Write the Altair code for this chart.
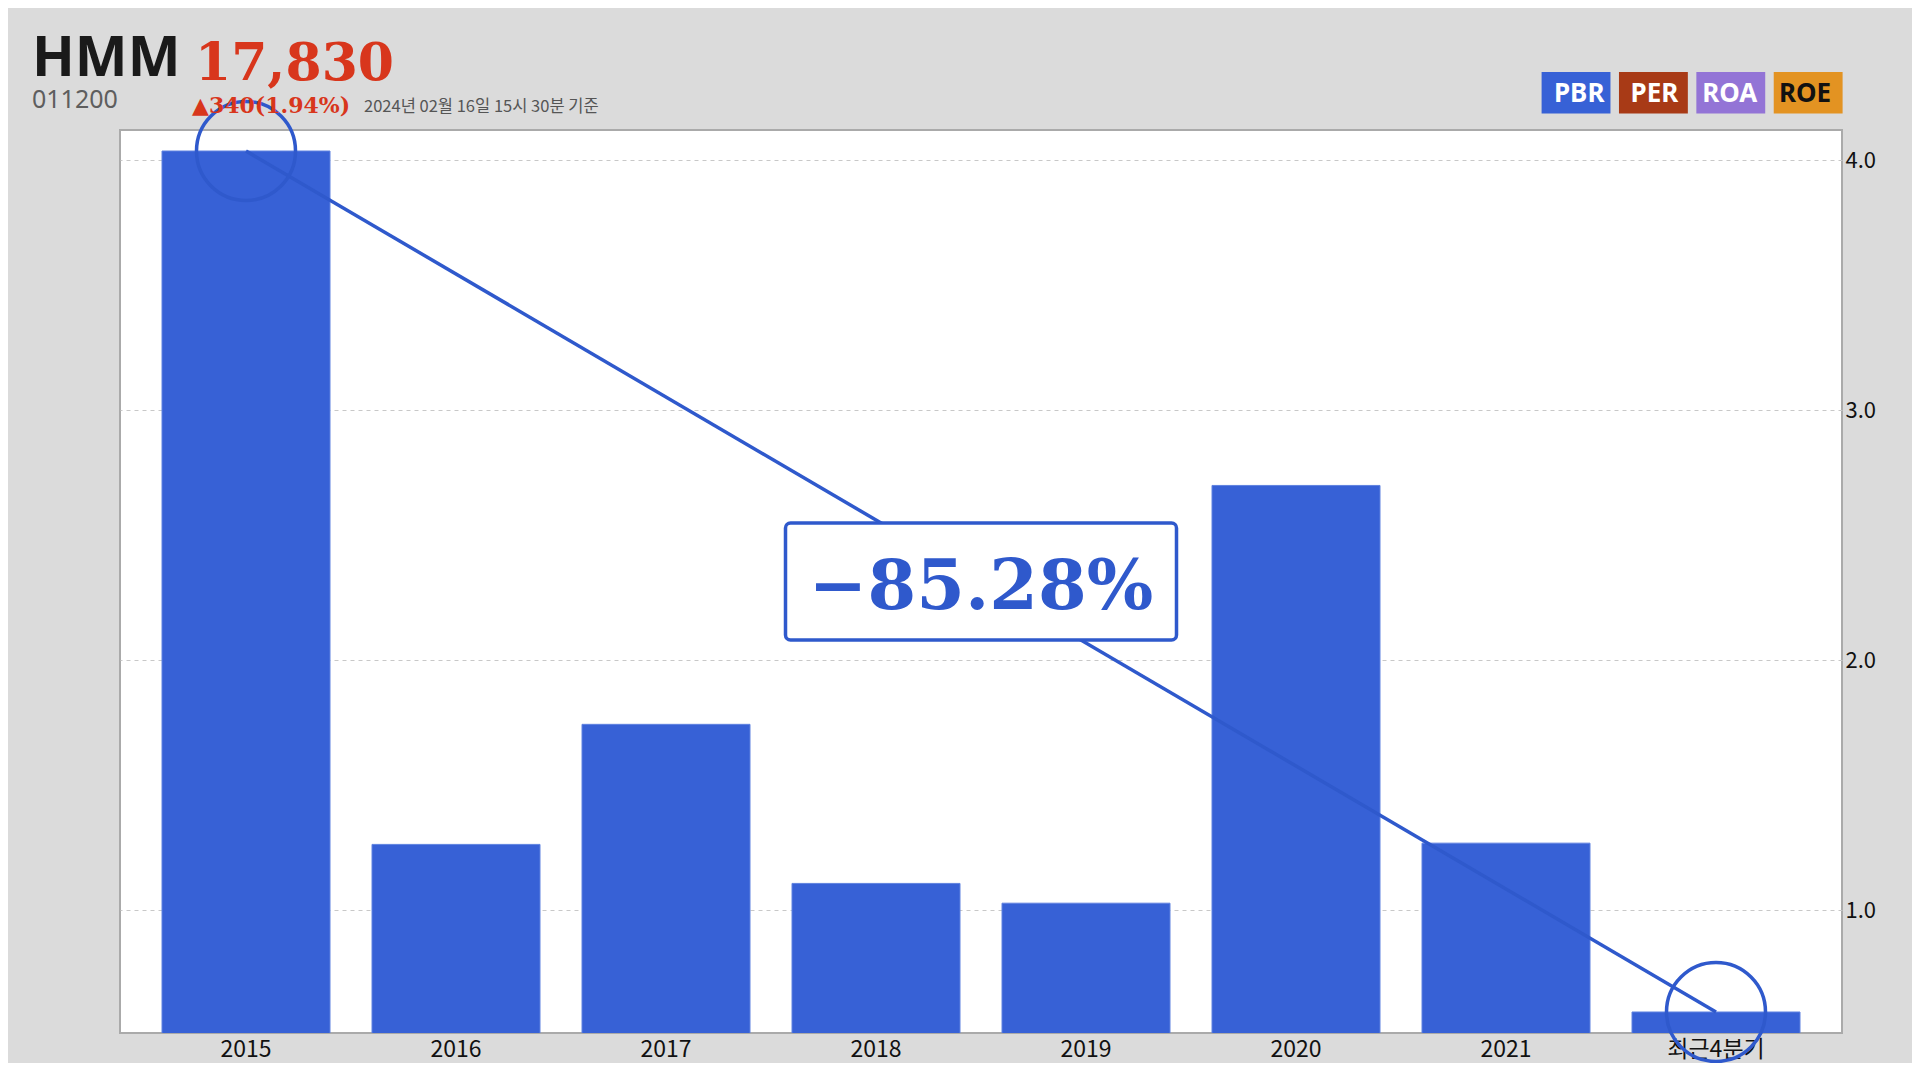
import altair as alt
import pandas as pd

# ---- data ----
years = ["2015", "2016", "2017", "2018", "2019", "2020", "2021", "최근4분기"]
pbr = [4.036, 1.264, 1.744, 1.108, 1.029, 2.699, 1.269, 0.594]
y_ticks = [1.0, 2.0, 3.0, 4.0]
legend_labels = ["PBR", "PER", "ROA", "ROE"]
legend_colors = ["#3761d6", "#a83a16", "#9374d6", "#e39322"]
legend_text_colors = ["#ffffff", "#ffffff", "#ffffff", "#111111"]
change_text = "−85.28%"
name_text = "HMM"
code_text = "011200"
price_text = "17,830"
delta_text = "▲340(1.94%)"
date_text = "2024년 02월 16일 15시 30분 기준"

# ---- layout ----
W, H = 1722, 903
DMIN, DMAX = 0.51, 4.12
BLUE = "#3761d6"
LINE_BLUE = "#2f59cc"
RED = "#d8361c"
FONT = "Noto Sans CJK KR"
SERIF = "DejaVu Serif"

df = pd.DataFrame({"year": years, "value": pbr})
ends = df.iloc[[0, len(df) - 1]].reset_index(drop=True)
leg = pd.DataFrame({"label": legend_labels, "color": legend_colors, "tcolor": legend_text_colors})

def xsc():
    return alt.Scale(type="band", domain=years, paddingInner=0.2, paddingOuter=0.2)

yscale = alt.Scale(domain=[DMIN, DMAX], nice=False, zero=False)
yaxis = alt.Axis(orient="right", values=y_ticks, format=".1f", ticks=False, domain=False,
                 grid=True, gridDash=[4, 4], gridColor="#c8c8c8", gridWidth=1,
                 labelFont=FONT, labelFontSize=22, labelColor="#111111", labelPadding=3)

bars = alt.Chart(df).mark_bar(color=BLUE, clip=True, stroke="#5f82e0", strokeWidth=1).encode(
    x=alt.X("year:N", sort=years, scale=xsc(), title=None,
            axis=alt.Axis(labelAngle=0, ticks=False, domain=False, labelFont=FONT,
                          labelFontSize=23, labelColor="#111111", labelPadding=5)),
    y=alt.Y("value:Q", scale=yscale, title=None, axis=yaxis),
)

line = alt.Chart(ends).mark_line(color=LINE_BLUE, strokeWidth=3.5).encode(
    x=alt.X("year:N", sort=years, scale=xsc(), axis=None),
    y=alt.Y("value:Q", scale=yscale, title=None, axis=yaxis),
)

circles = alt.Chart(ends).mark_point(shape="circle", size=9800, filled=False, strokeWidth=3.5,
                                     color=LINE_BLUE, opacity=1).encode(
    x=alt.X("year:N", sort=years, scale=xsc(), axis=None),
    y=alt.Y("value:Q", scale=yscale, title=None, axis=yaxis),
)

mid_val = (pbr[0] + pbr[-1]) / 2
cy = H * (DMAX - mid_val) / (DMAX - DMIN)
cx = W / 2
bw, bh = 391, 117

box = alt.Chart(pd.DataFrame({"t": [change_text]})).mark_rect(
    fill="white", stroke=LINE_BLUE, strokeWidth=3.5, cornerRadius=5).encode(
    x=alt.value(cx - bw / 2), x2=alt.value(cx + bw / 2),
    y=alt.value(cy - bh / 2), y2=alt.value(cy + bh / 2),
)
box_text = alt.Chart(pd.DataFrame({"t": [change_text]})).mark_text(
    font=SERIF, fontSize=70, fontWeight="bold", color=LINE_BLUE, align="center", baseline="alphabetic").encode(
    x=alt.value(cx), y=alt.value(cy + 27), text="t:N",
)

def label(txt, x, y, size, color, font, weight="normal"):
    return alt.Chart(pd.DataFrame({"t": [txt]})).mark_text(
        font=font, fontSize=size, fontWeight=weight, color=color, align="left",
        baseline="alphabetic").encode(x=alt.value(x), y=alt.value(y), text="t:N")

titles = [
    label(name_text, -88, -54, 56, "#1a1a1a", "Noto Sans", "bold"),
    label(price_text, 75, -50, 52, RED, SERIF, "bold"),
    label(code_text, -88, -22, 25, "#5e5e5e", "Noto Sans"),
    label(delta_text, 72, -17, 22, RED, SERIF, "bold"),
    label(date_text, 244, -18, 16.5, "#555555", FONT),
]

legx = alt.Scale(domain=legend_labels, range=[1421.6, 1722.6], paddingInner=0.11, paddingOuter=0)
leg_boxes = alt.Chart(leg).mark_bar().encode(
    x=alt.X("label:N", sort=legend_labels, scale=legx, axis=None),
    y=alt.value(-58), y2=alt.value(-16.5),
    color=alt.Color("color:N", scale=None, legend=None),
)
leg_text = alt.Chart(leg).mark_text(font="Noto Sans", fontSize=26, fontWeight="bold",
                                    baseline="middle", dy=1).encode(
    x=alt.X("label:N", sort=legend_labels, scale=legx, axis=None),
    y=alt.value(-37),
    text="label:N",
    color=alt.Color("tcolor:N", scale=None, legend=None),
)

chart = alt.layer(bars, line, circles, box, box_text, *titles, leg_boxes, leg_text).resolve_scale(
    x="independent"
).properties(
    width=W, height=H,
    autosize=alt.AutoSizeParams(type="none"),
    padding={"left": 112, "top": 122, "right": 70, "bottom": 30},
    background="#dbdbdb",
).configure_view(fill="white", stroke="#aaaaaa", strokeWidth=2)

chart.save("out.html", embed_options={"renderer": "svg", "actions": False})
